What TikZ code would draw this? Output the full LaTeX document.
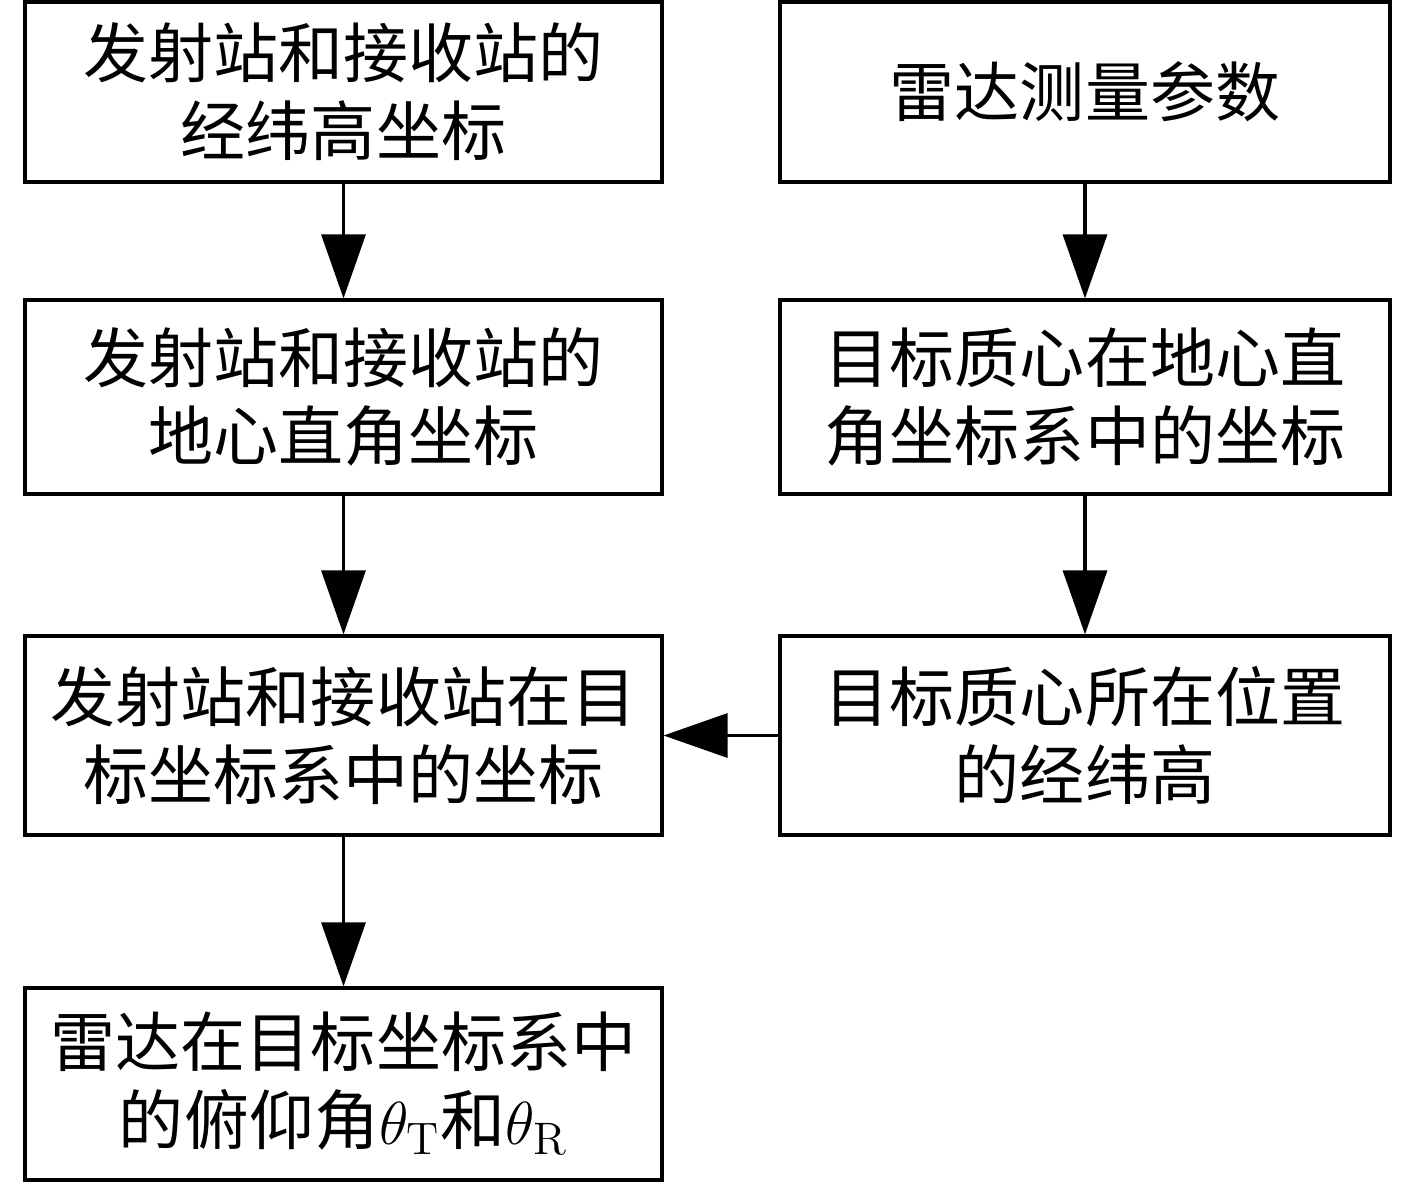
\documentclass[tikz,border=0pt]{standalone}
\usepackage{fontspec}
\usepackage{tikz}
\newfontfamily\cjkfont{Noto Sans CJK SC}
\usetikzlibrary{positioning,arrows.meta}

\begin{document}
\begin{tikzpicture}[node distance=3cm,on grid,line width=0.9pt,
              >={Triangle[length=0.64cm,width=0.44cm]},
              box/.style={draw,rectangle,align=center,inner sep=0pt,
                font=\cjkfont\fontsize{18.5}{22.2}\selectfont}]
              \useasboundingbox (0,0) rectangle (14.17,-11.83);
              \node[box,minimum width=6.37cm,minimum height=1.80cm](L_1) at (3.435,-0.92){发射站和接收站的\\经纬高坐标};
              \node[box,minimum width=6.37cm,minimum height=1.94cm](L_2)[below=3.05cm of L_1]{发射站和接收站的\\地心直角坐标};
              \node[box,minimum width=6.37cm,minimum height=1.99cm](L_3)[below=3.385cm of L_2]{发射站和接收站在目\\标坐标系中的坐标};
              \node[box,minimum width=6.37cm,minimum height=1.92cm](L_4)[below=3.485cm of L_3]{雷达在目标坐标系中\\的俯仰角$\theta_{\mathrm{T}}$和$\theta_{\mathrm{R}}$};
              \node[box,minimum width=6.10cm,minimum height=1.80cm](R_1)[right=7.415cm of L_1]{雷达测量参数};
              \node[box,minimum width=6.10cm,minimum height=1.94cm](R_2)[right=7.415cm of L_2]{目标质心在地心直\\角坐标系中的坐标};
              \node[box,minimum width=6.10cm,minimum height=1.99cm](R_3)[right=7.415cm of L_3]{目标质心所在位置\\的经纬高};
              \path[->]
              (L_1) edge (L_2)
              (L_2) edge (L_3)
              (L_3) edge (L_4)
              (R_1) edge (R_2)
              (R_2) edge (R_3)
              (R_3) edge (L_3);
          \end{tikzpicture}
\end{document}
